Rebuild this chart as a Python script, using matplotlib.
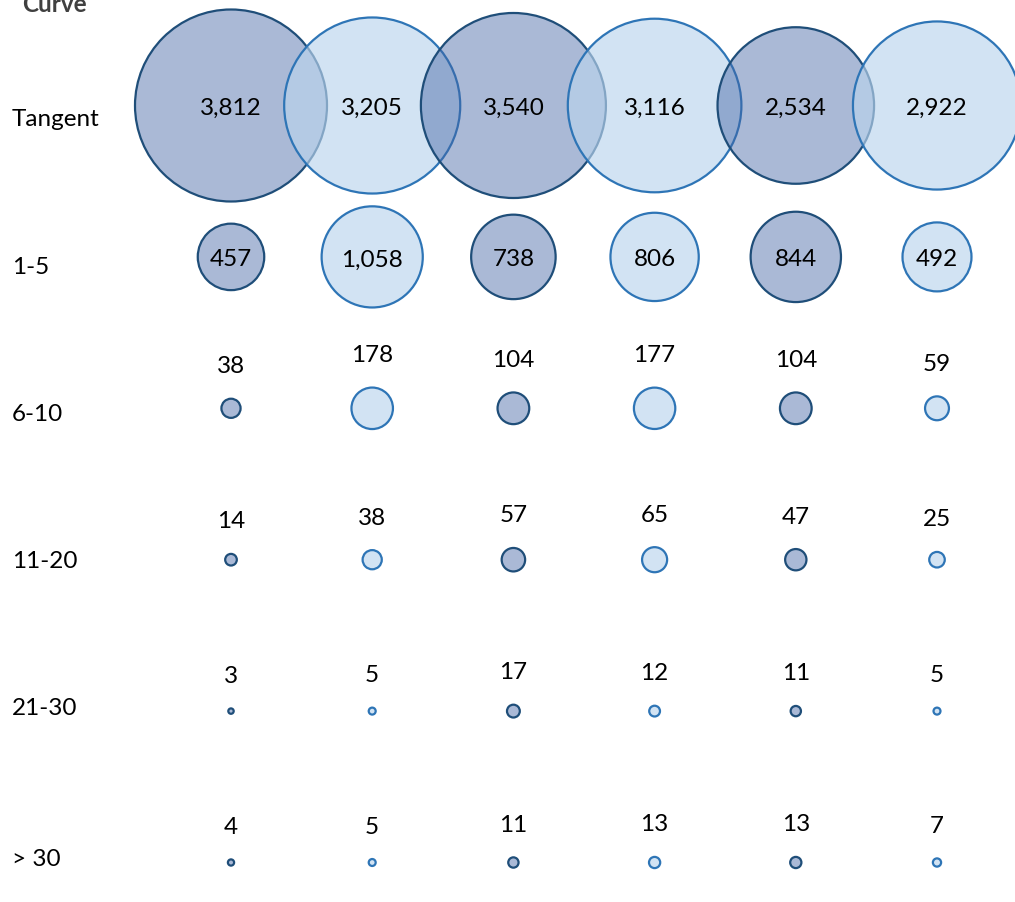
import matplotlib
matplotlib.use("Agg")
import matplotlib.pyplot as plt
import numpy as np

rows = ["Tangent", "1-5", "6-10", "11-20", "21-30", "> 30"]
columns = ["A1", "A2", "B1", "B2", "C1", "C2"]
tangent = [3812, 3205, 3540, 3116, 2534, 2922]
r1_5 = [457, 1058, 738, 806, 844, 492]
r6_10 = [38, 178, 104, 177, 104, 59]
r11_20 = [14, 38, 57, 65, 47, 25]
r21_30 = [3, 5, 17, 12, 11, 5]
r30p = [4, 5, 11, 13, 13, 7]
values = np.array([tangent, r1_5, r6_10, r11_20, r21_30, r30p], dtype=float)

plt.rcParams['font.family'] = ['Lato', 'DejaVu Sans']

W, H, DPI = 1015, 903, 100
fig = plt.figure(figsize=(W / DPI, H / DPI), dpi=DPI)
ax = fig.add_axes([0, 0, 1, 1])
ax.set_axis_off()

# axis scaling: column spacing / row spacing in pixels
col_px, row_px = 141.2, 151.4
x0_px, y0_px = 231, 106.5
xmin = -x0_px / col_px
ax.set_xlim(xmin, xmin + W / col_px)
ymin = -y0_px / row_px
ax.set_ylim(ymin + H / row_px, ymin)

max_r_px = 96.0
max_v = values.max()
px2pt = 72.0 / DPI
FS = 17.5

dark_face = (67 / 255, 100 / 255, 164 / 255, 0.45)
dark_edge = "#1f4e79"
light_face = (186 / 255, 212 / 255, 237 / 255, 0.65)
light_edge = "#2e75b6"

for j, col in enumerate(columns):
    vals = values[:, j]
    r_px = max_r_px * np.sqrt(vals / max_v)
    s = (2 * r_px * px2pt) ** 2
    dark = (j % 2 == 0)
    ax.scatter(np.full(len(rows), j), np.arange(len(rows)), s=s,
               facecolors=[dark_face if dark else light_face] * len(rows),
               edgecolors=dark_edge if dark else light_edge,
               linewidths=1.6, zorder=2 + j)
    for i, v in enumerate(vals):
        label = f"{int(v):,}"
        if i < 2:
            ax.annotate(label, (j, i), ha='center', va='center_baseline',
                        fontsize=FS, color='black', zorder=20)
        else:
            ax.annotate(label, (j, i), xytext=(0, (r_px[i] + 35) * px2pt),
                        textcoords='offset points', ha='center', va='center_baseline',
                        fontsize=FS, color='black', zorder=20)

label_y_px = [118, 266, 413, 560, 707, 858]
for name, ypx in zip(rows, label_y_px):
    fig.text(12 / W, 1 - ypx / H, name, ha='left', va='center_baseline',
             fontsize=FS, color='black')

fig.text(22 / W, 1 - 12 / H, "Curve", ha='left', va='baseline',
         fontsize=FS, fontweight='bold', color='#404040')

fig.savefig("out.png", dpi=DPI, facecolor='white')
